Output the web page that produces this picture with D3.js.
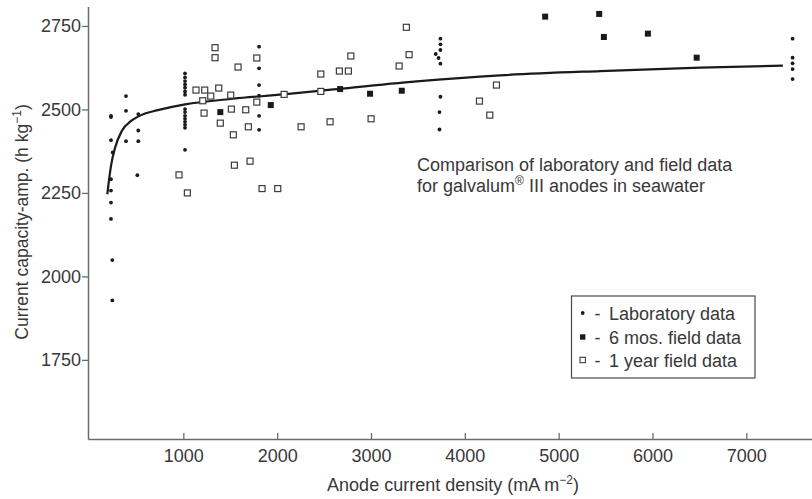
<!DOCTYPE html>
<html>
<head>
<meta charset="utf-8">
<script src="https://cdn.jsdelivr.net/npm/d3@7"></script>
<style>
  html, body { margin: 0; padding: 0; background: #fff; }
  svg { display: block; font-family: "Liberation Sans", Arial, Helvetica, sans-serif; }
</style>
</head>
<body>
<svg id="chart" width="812" height="499"></svg>
<script>
// ---------------- data ----------------
const labX = [229, 229, 229, 247, 229, 229, 229, 229, 243, 243,
              389, 389, 389,
              520, 520, 520, 510,
              1018, 1018, 1018, 1018, 1018, 1018, 1018,
              1018, 1018, 1018, 1018, 1018, 1018, 1018, 1018,
              1807, 1807, 1807, 1807, 1807, 1807,
              3740, 3740, 3740, 3690, 3720, 3740, 3740, 3730, 3730,
              7493, 7493, 7493, 7493, 7493];
const labY = [2481, 2477, 2408, 2371, 2291, 2257, 2221, 2172, 2049, 1928,
              2540, 2496, 2405,
              2486, 2437, 2405, 2303,
              2608, 2596, 2585, 2575, 2565, 2554, 2544,
              2501, 2492, 2481, 2472, 2463, 2454, 2445, 2379,
              2688, 2623, 2573, 2541, 2481, 2439,
              2712, 2695, 2678, 2666, 2654, 2637, 2538, 2492, 2440,
              2712, 2655, 2638, 2621, 2591];

const sixMonthX = [1394, 1932, 2671, 2990, 3328, 4856, 5432, 5482, 5951, 6471];
const sixMonthY = [2492, 2513, 2561, 2547, 2556, 2778, 2786, 2717, 2727, 2655];

const oneYearX = [954, 1043, 1135, 1228, 1207, 1221, 1292, 1338, 1338, 1377,
                  1394, 1505, 1512, 1533, 1544, 1583, 1665, 1693, 1711, 1783,
                  1783, 1839, 2006, 2074, 2255, 2465, 2465, 2564, 2663, 2759,
                  2785, 3001, 3300, 3377, 3406, 4156, 4266, 4337];
const oneYearY = [2304, 2250, 2558, 2558, 2526, 2489, 2540, 2685, 2655, 2564,
                  2459, 2543, 2501, 2424, 2333, 2627, 2499, 2448, 2345, 2654,
                  2522, 2263, 2263, 2545, 2448, 2606, 2554, 2463, 2615, 2615,
                  2660, 2472, 2630, 2746, 2664, 2525, 2483, 2573];

const fitX = [190, 208, 229, 272, 343, 450, 592, 716, 1018, 1530, 2066, 2600, 3488, 4376, 5442, 6509, 7390];
const fitY = [2246, 2289, 2331, 2385, 2435, 2467, 2488, 2497, 2515, 2532, 2545, 2560, 2584, 2602, 2615, 2625, 2631];

const xTicks = [1000, 2000, 3000, 4000, 5000, 6000, 7000];
const yTicks = [1750, 2000, 2250, 2500, 2750];

const legendLabels = ["Laboratory data", "6 mos. field data", "1 year field data"];

// ---------------- drawing ----------------
const svg = d3.select("#chart");
const axisColor = "#6b6b6b";
const textColor = "#383838";
const ink = "#1a1a1a";
const fs = 18, sup = 12;

const x = d3.scaleLinear().domain([-16, 7700]).range([88, 812]);
const y = d3.scaleLinear().domain([1513, 2808]).range([439, 6.6]);

// x axis (ticks point inward/up)
const xAxis = svg.append("g")
  .attr("transform", `translate(0,${y.range()[0]})`)
  .call(d3.axisBottom(x).tickValues(xTicks).tickSizeInner(-6).tickSizeOuter(0).tickPadding(10.5).tickFormat(d3.format("d")));
xAxis.select(".domain").attr("stroke", axisColor).attr("stroke-width", 1.5);
xAxis.selectAll(".tick line").attr("stroke", axisColor).attr("stroke-width", 1.3);
xAxis.selectAll(".tick text").attr("fill", textColor).attr("font-size", fs).attr("font-family", "Liberation Sans, Arial, sans-serif");

// y axis (ticks point outward/left)
const yAxis = svg.append("g")
  .attr("transform", `translate(${x.range()[0]},0)`)
  .call(d3.axisLeft(y).tickValues(yTicks).tickSizeInner(6).tickSizeOuter(0).tickPadding(1).tickFormat(d3.format("d")));
yAxis.select(".domain").attr("stroke", axisColor).attr("stroke-width", 1.5);
yAxis.selectAll(".tick line").attr("stroke", axisColor).attr("stroke-width", 1.3);
yAxis.selectAll(".tick text").attr("fill", textColor).attr("font-size", fs).attr("font-family", "Liberation Sans, Arial, sans-serif");

// axis titles
const xTitle = svg.append("text")
  .attr("x", 453).attr("y", 491)
  .attr("text-anchor", "middle").attr("fill", textColor).attr("font-size", fs);
xTitle.append("tspan").text("Anode current density (mA m");
xTitle.append("tspan").attr("dy", -7).attr("font-size", sup).text("−2");
xTitle.append("tspan").attr("dy", 7).text(")");

const yTitle = svg.append("text")
  .attr("transform", "translate(28,222) rotate(-90)")
  .attr("text-anchor", "middle").attr("fill", textColor).attr("font-size", 17.5);
yTitle.append("tspan").text("Current capacity-amp. (h kg");
yTitle.append("tspan").attr("dy", -7).attr("font-size", sup).text("−1");
yTitle.append("tspan").attr("dy", 7).text(")");

// fitted curve
const fitPts = fitX.map((d, i) => [d, fitY[i]]);
svg.append("path")
  .datum(fitPts)
  .attr("fill", "none").attr("stroke", ink).attr("stroke-width", 2.2)
  .attr("d", d3.line().x(d => x(d[0])).y(d => y(d[1])).curve(d3.curveMonotoneX));

// lab dots
svg.append("g").selectAll("circle")
  .data(labX.map((d, i) => [d, labY[i]]))
  .join("circle")
  .attr("cx", d => x(d[0])).attr("cy", d => y(d[1]))
  .attr("r", 1.9).attr("fill", ink);

// 1-year open squares
const s = 6;
svg.append("g").selectAll("rect")
  .data(oneYearX.map((d, i) => [d, oneYearY[i]]))
  .join("rect")
  .attr("x", d => x(d[0]) - s / 2).attr("y", d => y(d[1]) - s / 2)
  .attr("width", s).attr("height", s)
  .attr("fill", "#fff").attr("stroke", "#3c3c3c").attr("stroke-width", 1.2);

// 6-month filled squares
const f = 6;
svg.append("g").selectAll("rect")
  .data(sixMonthX.map((d, i) => [d, sixMonthY[i]]))
  .join("rect")
  .attr("x", d => x(d[0]) - f / 2).attr("y", d => y(d[1]) - f / 2)
  .attr("width", f).attr("height", f)
  .attr("fill", ink);

// annotation
const ann = svg.append("text").attr("fill", textColor).attr("font-size", fs);
ann.append("tspan").attr("x", 417).attr("y", 170.5).text("Comparison of laboratory and field data");
const l2 = ann.append("tspan").attr("x", 417).attr("y", 191.5);
l2.append("tspan").text("for galvalum");
l2.append("tspan").attr("dy", -7).attr("font-size", sup).text("®");
l2.append("tspan").attr("dy", 7).text(" III anodes in seawater");

// legend
const lg = svg.append("g");
lg.append("rect").attr("x", 571.5).attr("y", 296).attr("width", 183.5).attr("height", 82)
  .attr("fill", "#fff").attr("stroke", "#4a4a4a").attr("stroke-width", 1.2);
const rowsY = [313, 337, 360];
legendLabels.forEach((lab, i) => {
  const cy = rowsY[i];
  if (i === 0) {
    lg.append("circle").attr("cx", 582.7).attr("cy", cy).attr("r", 1.9).attr("fill", ink);
  } else if (i === 1) {
    lg.append("rect").attr("x", 580).attr("y", cy - 2.7).attr("width", 5.4).attr("height", 5.4).attr("fill", ink);
  } else {
    lg.append("rect").attr("x", 580).attr("y", cy - 2.7).attr("width", 5.4).attr("height", 5.4)
      .attr("fill", "#fff").attr("stroke", "#3c3c3c").attr("stroke-width", 1.1);
  }
  lg.append("text").attr("x", 597.5).attr("y", cy + 6.5).attr("text-anchor", "middle")
    .attr("fill", textColor).attr("font-size", fs).text("-");
  lg.append("text").attr("x", 609).attr("y", cy + 6.5)
    .attr("fill", textColor).attr("font-size", fs).text(lab);
});
</script>
</body>
</html>
